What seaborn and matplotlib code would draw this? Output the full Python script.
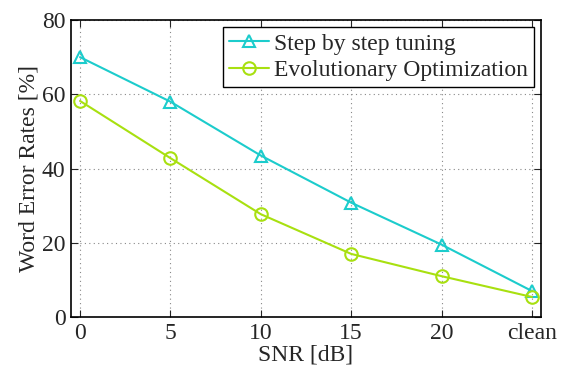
import matplotlib
matplotlib.use("Agg")
import matplotlib.pyplot as plt
import pandas as pd
import seaborn as sns

snr_labels = ['0', '5', '10', '15', '20', 'clean']
step_by_step = [70, 58, 43.5, 30.8, 19.5, 7]
evolutionary = [58.2, 42.8, 27.7, 17, 11, 5.4]
series_names = ['Step by step tuning', 'Evolutionary Optimization']

sns.set_style('ticks')
plt.rcParams['font.family'] = ['Liberation Serif', 'DejaVu Serif']
plt.rcParams['mathtext.fontset'] = 'stix'
plt.rcParams['xtick.direction'] = 'in'
plt.rcParams['ytick.direction'] = 'in'

df = pd.DataFrame({
    'SNR': snr_labels * 2,
    'WER': step_by_step + evolutionary,
    'method': [series_names[0]] * len(snr_labels) + [series_names[1]] * len(snr_labels),
})

fig = plt.figure(figsize=(5.66, 3.67), dpi=100)
ax = fig.add_axes([0.1254, 0.1362, 0.8304, 0.8093])

palette = {series_names[0]: '#1ccccc', series_names[1]: '#a8e010'}
sns.lineplot(data=df, x='SNR', y='WER', hue='method', style='method',
             markers={series_names[0]: '^', series_names[1]: 'o'}, dashes=False,
             palette=palette, ax=ax, linewidth=1.5, markersize=9,
             markeredgewidth=1.5, sort=False)

# hollow markers with coloured edges, like the original
for line in ax.lines:
    c = line.get_color()
    line.set_markerfacecolor('none')
    line.set_markeredgecolor(c)

ax.set_xlim(-0.1, 5.1)
ax.set_ylim(0, 80)
ax.set_yticks([0, 20, 40, 60, 80])
ax.set_xticks(range(len(snr_labels)))
ax.set_xticklabels(snr_labels)
ax.tick_params(labelsize=17, top=True, right=True, length=5, width=0.8, pad=4)
ax.grid(True, linestyle=(0, (1, 3)), color='#888888', linewidth=0.8)
for s in ax.spines.values():
    s.set_linewidth(1.2)
    s.set_color('black')

ax.set_xlabel('SNR [dB]', fontsize=17, labelpad=0.5)
ax.set_ylabel('Word Error Rates [%]', fontsize=17, labelpad=2)

leg = ax.legend(loc='upper right', fontsize=17, fancybox=False, framealpha=1,
                edgecolor='black', borderaxespad=0.3, handlelength=1.7,
                handletextpad=0.2, labelspacing=0.2, borderpad=0.25)
leg.get_frame().set_linewidth(1.0)
for h in leg.legend_handles:
    h.set_markerfacecolor('none')
    h.set_markeredgecolor(h.get_color())
    h.set_markersize(9)

fig.savefig('out.png', dpi=100)
